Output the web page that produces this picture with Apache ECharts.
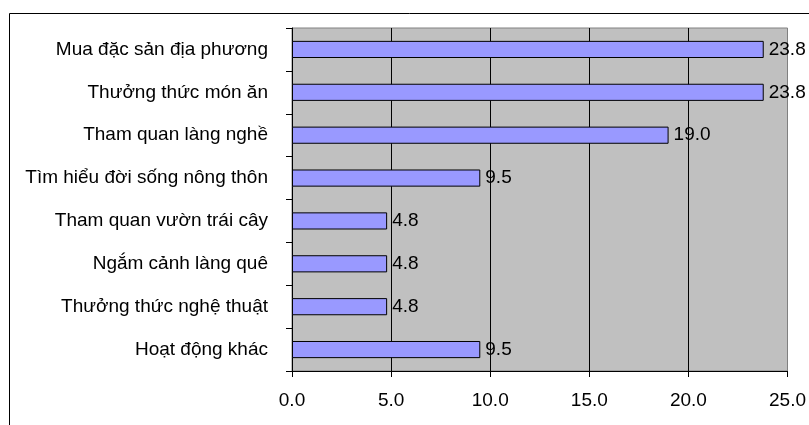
<!DOCTYPE html>
<html>
<head>
<meta charset="utf-8">
<script src="https://cdn.jsdelivr.net/npm/echarts@6/dist/echarts.min.js"></script>
<style>
  html, body { margin: 0; padding: 0; background: #fff; }
  #chart { width: 809px; height: 425px; }
</style>
</head>
<body>
<div id="chart"></div>
<script>
// Activities, listed top to bottom
const categories = [
  'Mua đặc sản địa phương',
  'Thưởng thức món ăn',
  'Tham quan làng nghề',
  'Tìm hiểu đời sống nông thôn',
  'Tham quan vườn trái cây',
  'Ngắm cảnh làng quê',
  'Thưởng thức nghệ thuật',
  'Hoạt động khác'
];
// Share of respondents (%)
const values = [23.8, 23.8, 19.0, 9.5, 4.8, 4.8, 4.8, 9.5];
// Value axis ticks
const xTicks = [0, 5, 10, 15, 20, 25];

const FONT = "'Liberation Sans', Arial, sans-serif";
const FS = 19;
const chart = echarts.init(document.getElementById('chart'), null, { renderer: 'canvas' });

chart.setOption({
  animation: false,
  backgroundColor: '#ffffff',
  textStyle: { fontFamily: FONT },
  graphic: [{
    type: 'rect',
    shape: { x: 9.5, y: 13.5, width: 820, height: 430 },
    style: { fill: 'none', stroke: '#000', lineWidth: 1 },
    silent: true,
    z: -1
  }],
  grid: {
    left: 292, right: 21, top: 28, bottom: 54,
    show: true,
    backgroundColor: '#C0C0C0',
    borderColor: '#808080',
    borderWidth: 1
  },
  xAxis: {
    type: 'value',
    min: xTicks[0],
    max: xTicks[xTicks.length - 1],
    interval: 5,
    axisLine: { show: true, lineStyle: { color: '#000', width: 1 } },
    axisTick: { show: true, length: 6, lineStyle: { color: '#000' } },
    axisLabel: {
      color: '#000', fontSize: FS, fontFamily: FONT, margin: 20,
      formatter: v => v.toFixed(1)
    },
    splitLine: { show: true, showMinLine: false, showMaxLine: false, lineStyle: { color: '#000', width: 1 } }
  },
  yAxis: {
    type: 'category',
    data: categories,
    inverse: true,
    axisLine: { show: true, lineStyle: { color: '#000', width: 1 } },
    axisTick: { show: true, length: 6, lineStyle: { color: '#000' } },
    axisLabel: { color: '#000', fontSize: FS, fontFamily: FONT, margin: 24 },
    splitLine: { show: false }
  },
  series: [{
    type: 'bar',
    data: values,
    barCategoryGap: '60%',
    itemStyle: { color: '#9999FF', borderColor: '#000', borderWidth: 1 },
    label: {
      show: true,
      position: 'right',
      distance: 5,
      color: '#000',
      fontSize: FS,
      fontFamily: FONT,
      formatter: p => p.value.toFixed(1)
    }
  }]
});
</script>
</body>
</html>
